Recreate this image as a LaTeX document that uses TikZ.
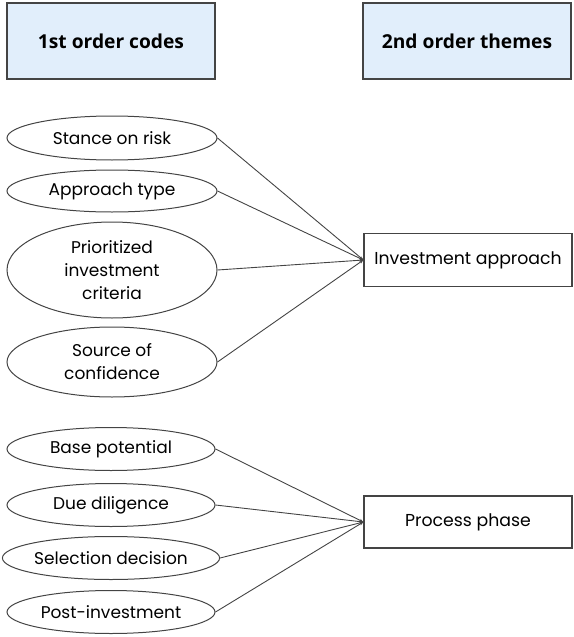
\documentclass[tikz,border=0pt]{standalone}
\usepackage{fontspec}
\setmainfont{Poppins}
\newfontfamily\headfont{Open Sans}
\usetikzlibrary{shapes.geometric,arrows.meta}

\definecolor{headblue}{HTML}{E1EEFB}
\definecolor{linegray}{HTML}{444444}

\tikzstyle{head} = [draw=linegray, line width=1.2pt, fill=headblue, minimum width=208pt, minimum height=76pt, inner sep=0pt, font=\headfont\bfseries\fontsize{19.2}{23}\selectfont]
\tikzstyle{code} = [draw=linegray, line width=1pt, ellipse, minimum width=210pt, inner sep=0pt, align=center, font=\fontsize{17}{23}\selectfont]
\tikzstyle{theme} = [draw=linegray, line width=1.2pt, minimum width=208pt, minimum height=53pt, inner sep=0pt, font=\fontsize{17.3}{20}\selectfont]
\tikzstyle{link} = [draw=linegray, line width=0.9pt, -{Stealth[length=4pt,width=3pt]}]

\begin{document}
\begin{tikzpicture}[x=1pt, y=-1pt]
  \useasboundingbox (0,0) rectangle (573,637);
  \node (first) at (111,41) [head] {1st order codes};
  \node (second) at (467,41) [head] {2nd order themes};

  \node (risk) at (112,138) [code, minimum height=44pt] {Stance on risk};
  \node (type) at (112,191) [code, minimum height=42pt] {Approach type};
  \node (crit) at (112,270) [code, minimum height=96pt] {Prioritized\\investment\\criteria};
  \node (conf) at (112,362) [code, minimum height=70pt] {Source of\\confidence};
  \node (approach) at (468,260) [theme] {Investment approach};

  \node (base) at (111,449) [code, minimum width=208pt, minimum height=43pt] {Base potential};
  \node (dd) at (111,505) [code, minimum width=208pt, minimum height=43pt] {Due diligence};
  \node (sel) at (111,558) [code, minimum width=208pt, minimum height=43pt] {Selection decision};
  \node (post) at (111,612) [code, minimum width=208pt, minimum height=43pt] {Post-investment};
  \node (phase) at (468,522) [theme, minimum height=52pt] {Process phase};

  \draw [link] (risk.east) to (approach.west);
  \draw [link] (type.east) to (approach.west);
  \draw [link] (crit.east) to (approach.west);
  \draw [link] (conf.east) to (approach.west);
  \draw [link] (base.east) to (phase.west);
  \draw [link] (dd.east) to (phase.west);
  \draw [link] (sel.east) to (phase.west);
  \draw [link] (post.east) to (phase.west);
\end{tikzpicture}
\end{document}
